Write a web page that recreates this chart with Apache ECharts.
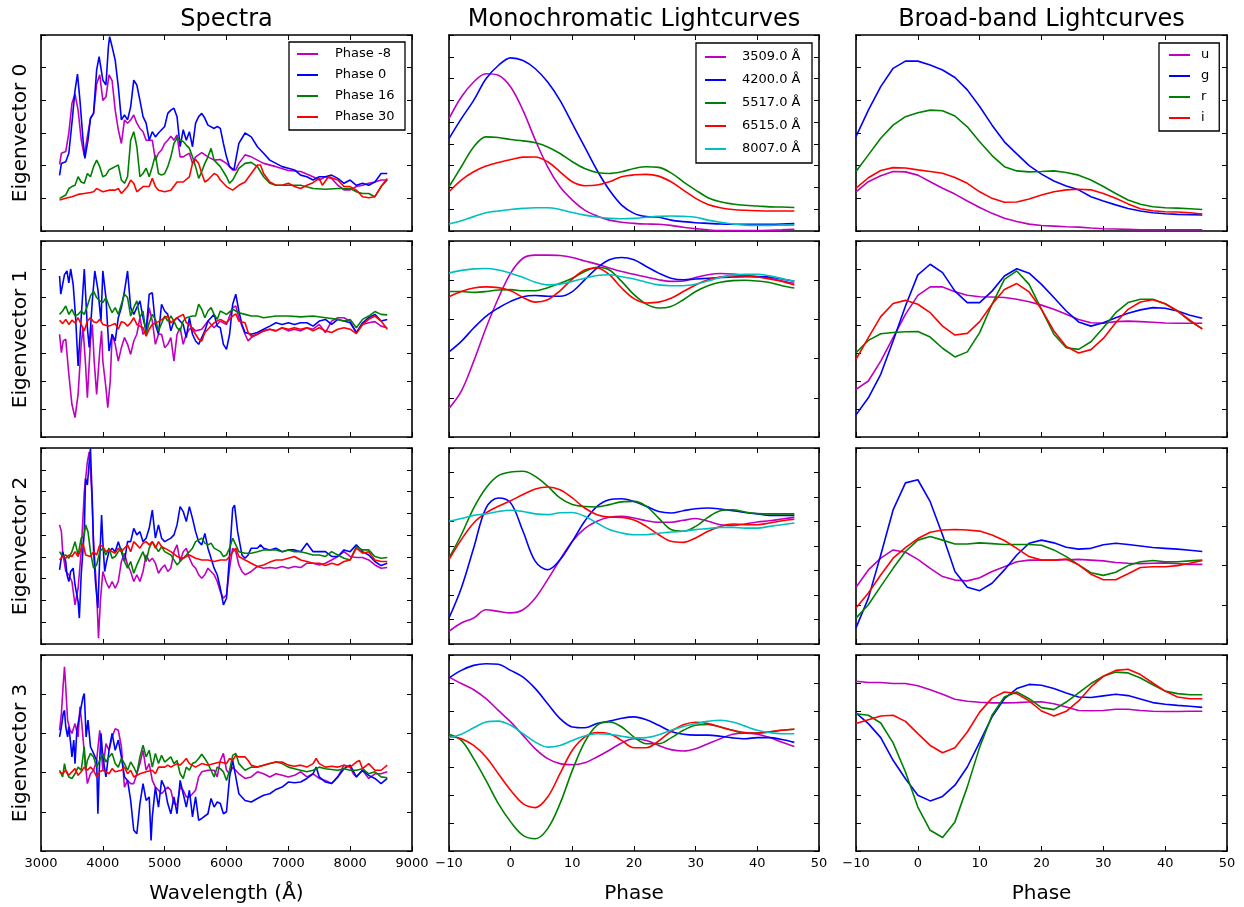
<!DOCTYPE html>
<html><head><meta charset="utf-8">
<script src="https://cdn.jsdelivr.net/npm/echarts@6/dist/echarts.min.js"></script>
<style>html,body{margin:0;padding:0;background:#fff}#c{width:1244px;height:907px}</style>
</head><body><div id="c"></div>
<script>
// ---------- tick labels / categories ----------
const COL_TITLES = ['Spectra', 'Monochromatic Lightcurves', 'Broad-band Lightcurves'];
const ROW_LABELS = ['Eigenvector 0', 'Eigenvector 1', 'Eigenvector 2', 'Eigenvector 3'];
const X_LABELS = ['Wavelength (Å)', 'Phase', 'Phase'];
const SPEC_NAMES = ['Phase -8', 'Phase 0', 'Phase 16', 'Phase 30'];
const MONO_NAMES = ['3509.0 Å', '4200.0 Å', '5517.0 Å', '6515.0 Å', '8007.0 Å'];
const BAND_NAMES = ['u', 'g', 'r', 'i'];
const PHASE = [-10,-8,-6,-4,-2,0,2,4,6,8,10,12,14,16,18,20,22,24,26,28,30,32,34,36,38,40,42,44,46];

// ---------- Spectra, eigenvector 0 ----------
const S0_M8 = [[3300,2.04],[3330,2.38],[3400,2.43],[3450,3.0],[3500,3.9],[3550,4.2],[3600,3.7],[3650,2.8],[3700,2.3],[3750,2.9],[3800,3.45],[3850,3.6],[3900,4.5],[3950,4.78],[4000,4.0],[4050,4.1],[4100,4.78],[4150,4.6],[4200,3.7],[4250,3.1],[4300,2.68],[4350,3.4],[4400,3.3],[4450,3.4],[4500,3.55],[4550,3.3],[4600,3.14],[4650,3.04],[4700,2.78],[4750,2.78],[4800,2.78],[4850,2.17],[4900,2.38],[4950,2.48],[5000,2.68],[5050,2.78],[5100,2.9],[5150,2.78],[5200,2.94],[5250,2.27],[5300,2.27],[5350,2.33],[5400,2.38],[5450,2.07],[5500,2.27],[5600,2.4],[5700,2.27],[5800,2.17],[5900,2.19],[6000,2.07],[6050,1.97],[6100,1.87],[6150,1.87],[6200,2.07],[6300,2.33],[6400,2.27],[6500,2.17],[6600,2.07],[6800,1.97],[7000,1.85],[7200,1.82],[7400,1.66],[7500,1.56],[7600,1.66],[7700,1.61],[7800,1.4],[7900,1.26],[8000,1.26],[8100,1.36],[8200,1.4],[8300,1.46],[8400,1.5],[8500,1.56],[8600,1.56]];
const S0_P0 = [[3300,1.7],[3330,2.07],[3400,2.12],[3450,2.38],[3500,3.3],[3550,4.3],[3590,4.8],[3630,4.0],[3680,2.78],[3710,2.22],[3760,2.78],[3800,3.45],[3850,3.6],[3900,4.93],[3940,5.34],[4000,4.62],[4050,4.47],[4090,5.64],[4110,5.95],[4150,5.64],[4200,5.23],[4250,4.42],[4300,3.4],[4350,3.55],[4400,3.4],[4450,3.8],[4500,4.62],[4550,4.47],[4600,4.0],[4650,3.5],[4700,3.3],[4750,2.78],[4800,3.04],[4850,2.88],[4900,3.0],[4950,3.1],[5000,3.2],[5050,3.6],[5100,3.7],[5150,3.76],[5200,3.5],[5250,2.58],[5300,3.1],[5350,2.78],[5400,3.04],[5450,2.58],[5500,3.3],[5550,3.5],[5600,3.6],[5650,3.45],[5700,3.24],[5800,3.14],[5850,3.2],[5900,3.14],[5950,2.68],[6000,2.27],[6050,1.97],[6120,1.87],[6200,2.68],[6300,3.0],[6400,2.88],[6500,2.58],[6600,2.38],[6700,2.17],[6800,2.07],[6900,1.97],[7000,1.92],[7100,1.87],[7200,1.71],[7300,1.66],[7400,1.56],[7500,1.66],[7600,1.66],[7700,1.71],[7800,1.61],[7900,1.46],[8000,1.56],[8100,1.4],[8200,1.46],[8300,1.4],[8400,1.5],[8500,1.76],[8600,1.76]];
const S0_P16 = [[3300,1.0],[3350,1.05],[3400,1.1],[3450,1.3],[3500,1.36],[3550,1.4],[3600,1.66],[3650,1.5],[3700,1.46],[3750,1.76],[3800,1.66],[3850,1.97],[3900,2.17],[3950,1.97],[4000,1.66],[4050,1.71],[4100,1.87],[4150,1.92],[4200,1.97],[4250,2.02],[4300,1.56],[4350,1.46],[4400,1.66],[4450,2.78],[4500,3.04],[4550,2.58],[4600,1.66],[4650,1.76],[4700,1.92],[4750,1.66],[4800,1.97],[4850,2.33],[4900,1.76],[4950,1.71],[5000,1.76],[5050,1.97],[5100,2.27],[5150,2.68],[5200,2.84],[5250,2.78],[5300,2.74],[5350,2.63],[5400,2.53],[5450,2.27],[5500,1.97],[5550,1.61],[5600,1.82],[5650,2.07],[5700,2.27],[5750,2.53],[5800,2.17],[5850,2.07],[5900,1.97],[6000,1.66],[6050,1.46],[6100,1.56],[6200,1.92],[6300,2.07],[6400,2.1],[6500,1.97],[6600,1.66],[6700,1.46],[6800,1.4],[7000,1.4],[7200,1.4],[7400,1.3],[7600,1.28],[7800,1.3],[8000,1.3],[8100,1.2],[8200,1.15],[8300,1.15],[8400,1.05],[8500,1.36],[8600,1.56]];
const S0_P30 = [[3300,0.95],[3400,1.0],[3500,1.05],[3600,1.12],[3700,1.15],[3800,1.18],[3850,1.2],[3900,1.3],[3950,1.25],[4000,1.2],[4100,1.25],[4200,1.25],[4250,1.3],[4300,1.15],[4400,1.36],[4450,1.56],[4500,1.46],[4550,1.2],[4650,1.36],[4750,1.36],[4800,1.61],[4850,1.36],[4900,1.25],[5000,1.2],[5100,1.25],[5200,1.5],[5300,1.5],[5400,1.66],[5450,2.07],[5500,2.19],[5550,2.07],[5600,1.76],[5650,1.5],[5700,1.56],[5800,1.76],[5850,1.71],[5900,1.56],[6000,1.36],[6100,1.25],[6200,1.4],[6300,1.5],[6400,1.76],[6500,2.02],[6550,2.02],[6600,1.76],[6700,1.5],[6800,1.4],[6900,1.4],[7000,1.46],[7100,1.36],[7200,1.3],[7300,1.4],[7400,1.48],[7500,1.61],[7550,1.4],[7650,1.66],[7800,1.56],[7900,1.36],[8000,1.36],[8100,1.25],[8200,1.05],[8300,1.02],[8400,1.05],[8500,1.36],[8600,1.61]];

// ---------- Spectra, eigenvector 1 ----------
const S1_M8 = [[3300,3.67],[3330,3.01],[3360,3.43],[3400,3.49],[3450,2.24],[3500,1.17],[3550,0.69],[3600,1.52],[3650,3.31],[3680,3.9],[3720,2.6],[3750,1.4],[3800,3.43],[3830,4.02],[3860,2.71],[3900,1.52],[3950,3.07],[3980,3.79],[4000,2.71],[4050,1.76],[4080,1.05],[4120,2.0],[4150,3.67],[4200,3.31],[4250,2.71],[4300,3.19],[4350,3.55],[4400,3.31],[4450,2.95],[4500,3.43],[4550,3.67],[4600,4.26],[4650,3.67],[4700,3.79],[4750,4.62],[4800,4.14],[4850,3.31],[4900,3.67],[4950,3.67],[5000,3.19],[5050,3.31],[5100,3.55],[5150,2.71],[5200,3.67],[5250,3.9],[5300,3.31],[5350,3.67],[5400,3.85],[5450,3.9],[5500,3.79],[5600,3.85],[5700,4.14],[5800,3.9],[5900,4.14],[6000,4.02],[6100,4.62],[6150,4.68],[6200,4.26],[6300,3.67],[6350,3.43],[6400,3.55],[6500,3.67],[6600,3.79],[6700,3.85],[6800,3.79],[6900,3.9],[7000,3.79],[7100,3.85],[7200,3.79],[7300,3.9],[7400,3.85],[7500,4.02],[7600,3.73],[7700,4.14],[7800,4.26],[7900,4.26],[8000,4.14],[8100,3.73],[8200,4.02],[8300,4.08],[8400,4.12],[8500,3.96],[8600,3.9]];
const S1_P0 = [[3300,5.75],[3320,5.1],[3350,5.45],[3380,5.8],[3420,5.93],[3450,5.5],[3480,6.0],[3520,5.45],[3560,4.26],[3600,2.54],[3650,4.26],[3700,6.0],[3750,3.9],[3780,3.2],[3830,4.86],[3870,5.93],[3920,5.27],[3970,4.14],[4000,5.93],[4050,4.98],[4100,3.07],[4150,3.67],[4200,3.43],[4250,4.26],[4300,4.62],[4350,5.21],[4400,5.93],[4450,4.62],[4500,4.38],[4550,4.62],[4600,4.86],[4650,4.26],[4700,3.79],[4750,5.1],[4800,5.15],[4850,4.02],[4900,3.67],[4950,4.74],[5000,4.5],[5050,4.38],[5100,3.79],[5150,4.14],[5200,4.26],[5300,4.02],[5350,3.55],[5400,4.26],[5450,3.67],[5500,3.43],[5550,3.31],[5650,3.79],[5700,4.14],[5800,4.38],[5850,3.96],[5900,3.9],[5950,3.31],[6000,3.13],[6050,3.67],[6100,4.74],[6150,5.1],[6200,4.5],[6250,4.02],[6300,3.73],[6400,3.67],[6500,3.73],[6600,3.85],[6700,3.96],[6800,4.08],[6900,4.02],[7000,4.08],[7100,4.02],[7200,4.08],[7300,4.08],[7400,3.96],[7500,4.14],[7600,4.2],[7700,4.02],[7800,4.2],[7900,4.14],[8000,4.08],[8100,3.73],[8200,4.08],[8300,4.26],[8400,4.38],[8500,4.14],[8600,4.2]];
const S1_P16 = [[3300,4.38],[3350,4.5],[3400,4.68],[3450,4.38],[3500,4.56],[3550,4.32],[3600,4.38],[3650,4.5],[3700,4.38],[3750,4.68],[3800,5.04],[3850,5.21],[3900,4.98],[3950,4.86],[4000,4.8],[4050,4.98],[4100,4.68],[4150,4.44],[4200,4.62],[4250,4.38],[4300,4.74],[4350,5.1],[4400,4.98],[4450,4.32],[4500,4.62],[4550,4.86],[4600,4.26],[4650,4.5],[4700,3.67],[4750,4.08],[4800,4.38],[4850,4.2],[4900,3.79],[5000,4.32],[5050,4.14],[5100,4.32],[5150,4.14],[5200,3.9],[5250,3.79],[5300,4.14],[5350,4.26],[5450,4.32],[5500,4.32],[5550,4.74],[5600,4.56],[5650,4.26],[5700,4.5],[5750,4.62],[5800,4.38],[5850,4.2],[5900,4.5],[6000,4.38],[6100,4.56],[6200,4.44],[6300,4.38],[6400,4.32],[6500,4.32],[6600,4.26],[6800,4.32],[7000,4.32],[7200,4.29],[7400,4.32],[7600,4.26],[7800,4.2],[7900,4.14],[8000,4.2],[8100,3.9],[8200,4.2],[8300,4.32],[8400,4.48],[8500,4.38],[8600,4.36]];
const S1_P30 = [[3300,4.17],[3350,4.05],[3400,4.2],[3450,4.02],[3500,4.17],[3550,4.08],[3600,4.26],[3650,4.02],[3700,3.79],[3750,4.14],[3800,4.26],[3850,4.12],[3900,4.08],[3950,4.2],[4000,4.02],[4100,3.96],[4200,4.05],[4250,3.85],[4300,4.12],[4350,4.08],[4400,3.96],[4450,4.08],[4500,4.26],[4550,4.02],[4600,3.96],[4650,3.9],[4700,3.6],[4750,3.85],[4800,4.02],[4900,4.12],[5000,4.26],[5050,4.32],[5100,4.08],[5200,4.26],[5300,4.38],[5350,4.08],[5400,4.02],[5500,3.67],[5550,3.49],[5600,3.43],[5650,3.73],[5700,3.85],[5800,4.08],[5900,4.2],[6000,4.08],[6100,4.32],[6150,4.4],[6200,4.14],[6300,4.08],[6350,3.73],[6400,3.6],[6500,3.67],[6600,3.79],[6700,3.85],[6800,3.79],[6900,3.9],[7000,3.85],[7100,3.9],[7200,3.85],[7300,3.9],[7400,3.79],[7500,3.9],[7600,3.79],[7700,3.73],[7800,3.85],[7900,3.9],[8000,3.85],[8100,3.69],[8200,4.02],[8300,4.2],[8400,4.32],[8500,4.14],[8600,3.85]];

// ---------- Spectra, eigenvector 2 ----------
const S2_M8 = [[3300,5.47],[3330,5.16],[3350,4.24],[3400,3.33],[3450,3.18],[3500,2.87],[3550,1.8],[3600,2.56],[3650,4.24],[3700,6.99],[3750,8.37],[3780,8.82],[3820,6.99],[3850,4.7],[3900,2.41],[3930,0.27],[3960,1.95],[4000,3.33],[4050,2.87],[4100,2.56],[4150,2.87],[4200,2.56],[4250,2.87],[4300,3.79],[4350,4.17],[4400,3.63],[4450,3.33],[4500,2.87],[4550,3.18],[4600,2.87],[4650,3.33],[4700,4.09],[4750,3.79],[4800,3.94],[4850,3.71],[4900,3.25],[4950,3.48],[5000,3.63],[5050,3.33],[5100,3.48],[5150,4.24],[5200,4.55],[5250,3.79],[5300,4.24],[5350,4.4],[5400,3.94],[5450,3.63],[5500,3.48],[5550,3.18],[5600,3.02],[5650,3.18],[5700,3.48],[5750,3.33],[5800,3.18],[5850,2.87],[5900,2.41],[5950,2.1],[6000,2.26],[6050,3.48],[6100,4.4],[6150,4.24],[6200,3.63],[6250,3.33],[6300,3.18],[6350,3.25],[6400,3.33],[6500,3.56],[6600,3.48],[6700,3.51],[6800,3.48],[6900,3.56],[7000,3.48],[7100,3.56],[7200,3.51],[7300,3.71],[7400,3.71],[7500,3.63],[7600,3.71],[7700,3.86],[7800,4.02],[7900,4.24],[8000,4.02],[8100,3.97],[8200,3.97],[8300,3.86],[8400,3.63],[8500,3.48],[8600,3.51]];
const S2_P0 = [[3300,3.4],[3320,3.79],[3350,4.24],[3400,3.79],[3420,3.18],[3450,2.87],[3480,3.33],[3520,3.48],[3550,2.72],[3600,1.95],[3620,1.19],[3650,3.18],[3700,5.16],[3720,7.6],[3750,7.3],[3780,8.37],[3800,8.98],[3830,6.53],[3850,4.4],[3880,2.87],[3920,1.65],[3950,3.94],[3980,5.92],[4000,4.7],[4030,3.33],[4060,3.79],[4100,4.24],[4150,4.4],[4200,4.24],[4250,4.7],[4300,4.24],[4350,3.79],[4400,4.7],[4450,4.7],[4500,5.31],[4550,5.01],[4600,5.16],[4650,4.7],[4700,4.86],[4750,5.31],[4800,6.15],[4850,4.86],[4900,5.47],[4950,4.86],[5000,4.7],[5050,4.78],[5100,4.86],[5150,5.01],[5200,5.47],[5250,6.31],[5300,6.08],[5350,5.62],[5400,6.31],[5450,5.77],[5500,5.16],[5550,4.7],[5600,4.55],[5650,5.08],[5700,4.4],[5750,3.94],[5800,3.48],[5850,3.18],[5900,2.56],[5950,1.8],[6000,2.1],[6050,4.09],[6100,6.23],[6130,6.38],[6180,5.16],[6250,4.09],[6300,3.94],[6350,4.09],[6400,4.4],[6500,4.4],[6550,4.55],[6600,4.4],[6700,4.32],[6800,4.4],[6900,4.24],[7000,4.32],[7100,4.32],[7200,4.24],[7300,4.63],[7400,4.24],[7500,4.24],[7600,4.24],[7700,4.02],[7800,4.02],[7900,4.32],[8000,4.24],[8100,4.55],[8200,4.24],[8300,4.09],[8400,3.79],[8500,3.6],[8600,3.71]];
const S2_P16 = [[3300,4.24],[3350,4.02],[3400,4.09],[3450,3.94],[3500,4.24],[3550,4.7],[3600,4.09],[3650,4.86],[3700,5.01],[3720,5.47],[3760,5.16],[3800,4.24],[3850,3.48],[3900,3.63],[3950,4.24],[4000,4.4],[4050,4.09],[4100,4.4],[4150,3.94],[4200,4.02],[4250,4.24],[4300,4.4],[4350,3.79],[4400,3.48],[4450,3.79],[4500,3.25],[4550,3.63],[4600,3.94],[4650,4.24],[4700,3.79],[4750,4.4],[4800,4.7],[4850,4.47],[4900,4.24],[4950,4.47],[5000,4.24],[5100,4.09],[5150,3.86],[5200,3.63],[5250,3.79],[5300,3.94],[5350,4.09],[5400,4.24],[5450,4.4],[5500,4.7],[5550,4.78],[5600,4.86],[5650,4.63],[5700,4.55],[5750,4.63],[5800,4.4],[5900,4.24],[5950,4.02],[6000,4.09],[6050,4.4],[6100,4.86],[6150,4.55],[6200,4.24],[6300,4.17],[6400,4.17],[6500,4.24],[6600,4.32],[6700,4.32],[6800,4.32],[6900,4.24],[7000,4.32],[7100,4.24],[7200,4.24],[7300,4.17],[7400,4.09],[7500,4.09],[7600,4.02],[7700,4.24],[7800,4.09],[7900,3.94],[8000,3.86],[8100,4.47],[8200,4.32],[8300,4.32],[8400,4.02],[8500,3.94],[8600,3.97]];
const S2_P30 = [[3300,3.86],[3350,4.02],[3400,3.94],[3450,4.09],[3500,4.02],[3550,4.24],[3600,4.02],[3650,4.4],[3680,4.63],[3720,4.09],[3800,4.02],[3850,4.24],[3900,4.09],[3950,4.55],[4000,4.47],[4050,4.24],[4100,4.32],[4200,4.17],[4250,4.4],[4300,4.24],[4350,4.4],[4400,4.55],[4450,4.24],[4500,4.7],[4550,4.55],[4600,4.4],[4650,4.63],[4700,4.7],[4750,4.55],[4800,4.7],[4850,4.4],[4900,4.7],[4950,4.47],[5000,4.4],[5100,4.24],[5200,4.02],[5300,3.94],[5400,4.09],[5500,3.94],[5600,3.86],[5700,3.86],[5800,3.79],[5900,3.86],[6000,3.86],[6050,4.02],[6100,4.24],[6150,4.4],[6200,4.02],[6300,3.86],[6400,3.71],[6500,3.56],[6600,3.63],[6700,3.76],[6800,3.86],[6900,3.86],[7000,3.94],[7100,4.02],[7200,3.86],[7300,3.79],[7400,3.71],[7500,3.71],[7600,3.6],[7700,3.71],[7800,3.63],[7900,3.79],[8000,3.86],[8100,4.4],[8200,4.17],[8300,4.24],[8400,3.86],[8500,3.79],[8600,3.79]];

// ---------- Spectra, eigenvector 3 ----------
const S3_M8 = [[3300,3.08],[3330,3.51],[3360,4.27],[3380,4.7],[3400,4.19],[3430,3.34],[3470,3.08],[3500,3.0],[3550,3.25],[3600,2.91],[3630,3.68],[3660,3.25],[3700,2.5],[3750,1.72],[3800,1.97],[3850,2.06],[3900,2.31],[3950,3.08],[4000,2.06],[4050,2.74],[4100,2.57],[4150,2.91],[4200,3.12],[4250,3.08],[4300,2.66],[4350,1.63],[4400,1.8],[4450,1.72],[4500,1.72],[4550,1.97],[4600,2.23],[4650,2.57],[4700,2.06],[4750,2.23],[4800,1.8],[4850,1.63],[4900,1.55],[4950,1.46],[5000,1.55],[5050,1.63],[5100,1.55],[5150,1.21],[5200,1.17],[5250,1.63],[5300,1.55],[5350,1.38],[5400,1.38],[5450,1.46],[5500,1.55],[5550,1.89],[5600,2.02],[5700,2.06],[5800,2.06],[5850,1.89],[5900,2.31],[5950,2.49],[6000,2.06],[6050,1.97],[6100,2.14],[6200,1.97],[6300,1.85],[6400,1.89],[6500,2.02],[6600,1.97],[6700,1.89],[6800,1.97],[6900,1.93],[7000,1.89],[7100,1.93],[7200,2.02],[7300,1.89],[7400,1.97],[7500,1.85],[7600,1.8],[7700,1.72],[7800,1.89],[7900,2.19],[8000,2.14],[8050,1.97],[8100,1.89],[8200,2.06],[8300,1.85],[8400,1.97],[8500,1.97],[8600,2.02]];
const S3_P0 = [[3300,2.91],[3330,3.17],[3360,3.51],[3380,3.59],[3400,3.17],[3430,2.91],[3450,3.17],[3480,2.74],[3500,2.4],[3530,2.83],[3550,2.23],[3580,3.08],[3620,3.42],[3650,3.68],[3680,3.93],[3700,4.02],[3730,2.91],[3760,3.34],[3800,2.66],[3850,2.49],[3900,2.31],[3920,0.95],[3940,1.97],[3970,3.0],[4000,2.4],[4050,1.89],[4100,2.57],[4150,3.0],[4200,2.57],[4250,2.83],[4300,2.4],[4350,1.89],[4400,1.8],[4450,1.29],[4500,0.53],[4550,0.44],[4600,1.21],[4650,1.72],[4700,1.29],[4750,1.38],[4780,0.27],[4800,0.87],[4850,1.63],[4900,1.12],[4950,1.8],[5000,1.63],[5050,1.21],[5100,0.95],[5150,1.38],[5200,0.95],[5250,1.8],[5300,1.46],[5350,1.12],[5400,1.55],[5450,0.87],[5500,1.38],[5550,0.78],[5600,0.83],[5700,0.95],[5750,1.34],[5800,1.12],[5850,1.25],[5900,1.21],[5950,0.95],[6000,1.0],[6050,1.89],[6100,2.31],[6150,1.89],[6200,1.46],[6300,1.29],[6400,1.25],[6500,1.34],[6600,1.42],[6700,1.46],[6800,1.57],[6900,1.63],[7000,1.76],[7100,1.74],[7200,1.76],[7300,1.85],[7400,1.97],[7450,2.14],[7500,1.89],[7600,1.76],[7700,1.72],[7800,1.89],[7900,2.1],[8000,2.19],[8100,1.89],[8200,2.06],[8300,1.93],[8400,1.85],[8500,1.72],[8600,1.85]];
const S3_P16 = [[3300,2.06],[3350,1.89],[3380,2.23],[3400,2.06],[3450,1.89],[3500,1.85],[3550,1.97],[3600,2.14],[3650,2.06],[3700,2.66],[3720,2.06],[3750,2.31],[3800,2.49],[3850,2.4],[3900,2.14],[3950,2.31],[4000,2.49],[4050,2.27],[4100,2.4],[4150,2.49],[4200,2.23],[4250,2.14],[4300,2.36],[4350,2.23],[4400,2.06],[4450,2.27],[4500,2.14],[4550,1.97],[4600,2.4],[4650,2.7],[4700,2.4],[4750,2.57],[4800,2.14],[4850,2.49],[4900,2.23],[4950,2.44],[5000,2.27],[5100,2.4],[5150,2.23],[5200,2.31],[5250,1.97],[5300,1.85],[5350,2.14],[5400,2.06],[5450,2.23],[5500,2.27],[5550,2.36],[5600,2.47],[5650,2.36],[5700,2.23],[5750,2.06],[5800,1.89],[5850,2.14],[5900,2.1],[5950,2.02],[6000,1.8],[6050,2.06],[6100,2.44],[6150,2.49],[6200,2.23],[6300,2.06],[6400,2.14],[6500,2.14],[6600,2.19],[6700,2.23],[6800,2.27],[6900,2.23],[7000,2.14],[7100,2.1],[7200,2.06],[7300,2.02],[7400,2.06],[7500,2.14],[7600,2.1],[7700,2.08],[7800,2.06],[7900,2.1],[8000,2.06],[8100,2.06],[8200,2.1],[8300,1.97],[8400,2.02],[8500,1.89],[8600,1.87]];
const S3_P30 = [[3300,2.02],[3350,1.97],[3400,2.06],[3450,1.93],[3500,2.02],[3550,2.1],[3600,1.93],[3650,2.02],[3700,2.14],[3750,2.06],[3800,2.14],[3850,2.06],[3900,1.89],[3950,2.02],[4000,2.06],[4100,1.97],[4150,2.1],[4200,2.02],[4300,2.06],[4350,2.14],[4400,1.97],[4450,2.06],[4500,1.89],[4600,1.97],[4700,2.02],[4800,2.06],[4850,1.97],[4900,2.14],[5000,2.14],[5050,2.19],[5100,2.14],[5200,2.23],[5250,2.19],[5300,2.27],[5350,2.36],[5400,2.23],[5500,2.14],[5600,2.23],[5700,2.19],[5800,2.23],[5900,2.27],[6000,2.23],[6050,2.36],[6100,2.31],[6150,2.44],[6200,2.4],[6300,2.4],[6350,2.31],[6400,2.19],[6500,2.14],[6600,2.19],[6700,2.23],[6800,2.27],[6900,2.27],[7000,2.19],[7100,2.16],[7200,2.19],[7300,2.14],[7400,2.23],[7450,2.36],[7500,2.23],[7600,2.14],[7700,2.16],[7800,2.14],[7900,2.19],[8000,2.14],[8100,2.27],[8150,2.31],[8200,2.1],[8300,2.23],[8400,2.06],[8500,2.06],[8600,2.19]];

// ---------- Monochromatic lightcurves (values at PHASE) ----------
const M0_3509 = [5.16,6.15,6.84,7.22,7.15,6.61,5.54,4.17,2.95,2.03,1.42,0.96,0.69,0.5,0.4,0.35,0.32,0.31,0.26,0.17,0.11,0.05,0.02,0.02,0.02,0.02,0.03,0.05,0.08];
const M0_4200 = [4.24,5.16,6.0,6.99,7.6,7.95,7.83,7.45,6.84,6.0,4.93,3.86,2.79,1.88,1.19,0.81,0.66,0.63,0.5,0.43,0.38,0.35,0.32,0.31,0.31,0.31,0.31,0.32,0.34];
const M0_5517 = [2.03,2.95,3.86,4.32,4.29,4.2,4.14,4.05,3.86,3.56,3.18,2.87,2.69,2.64,2.72,2.87,2.95,2.92,2.67,2.26,1.88,1.53,1.34,1.24,1.18,1.15,1.11,1.1,1.08];
const M0_6515 = [1.8,2.34,2.72,2.98,3.15,3.28,3.39,3.4,3.18,2.72,2.26,2.08,2.11,2.26,2.49,2.58,2.6,2.52,2.26,1.88,1.5,1.22,1.07,0.99,0.95,0.93,0.92,0.92,0.92];
const M0_8007 = [0.32,0.47,0.66,0.84,0.92,0.99,1.04,1.07,1.07,0.99,0.85,0.73,0.64,0.58,0.56,0.58,0.63,0.67,0.69,0.67,0.63,0.5,0.4,0.32,0.27,0.26,0.26,0.27,0.27];
const M1_3509 = [0.73,1.17,1.93,2.78,3.54,4.18,4.56,4.64,4.64,4.63,4.58,4.49,4.41,4.31,4.22,4.15,4.08,4.01,3.97,3.98,4.07,4.14,4.17,4.16,4.12,4.09,4.05,3.98,3.92];
const M1_4200 = [2.17,2.44,2.78,3.08,3.29,3.46,3.58,3.61,3.59,3.59,3.71,4.01,4.31,4.52,4.58,4.52,4.35,4.18,4.05,4.01,4.03,4.05,4.07,4.08,4.09,4.09,4.08,4.03,3.97];
const M1_5517 = [3.71,3.71,3.69,3.71,3.75,3.76,3.73,3.73,3.81,3.92,4.05,4.22,4.33,4.26,3.97,3.63,3.39,3.29,3.33,3.5,3.71,3.86,3.95,3.99,4.0,3.98,3.94,3.86,3.8];
const M1_6515 = [3.58,3.71,3.8,3.83,3.81,3.73,3.56,3.44,3.5,3.73,4.03,4.26,4.31,4.14,3.8,3.53,3.42,3.44,3.54,3.71,3.88,4.01,4.08,4.11,4.11,4.08,4.03,3.97,3.88];
const M1_8007 = [4.18,4.25,4.29,4.3,4.26,4.18,4.07,3.95,3.88,3.9,3.97,4.05,4.12,4.14,4.09,4.03,3.95,3.88,3.86,3.86,3.9,3.98,4.07,4.13,4.15,4.15,4.11,4.04,3.97];
const M2_3509 = [0.52,0.86,1.06,1.4,1.33,1.27,1.4,1.88,2.63,3.44,4.19,4.71,5.01,5.17,5.21,5.14,5.03,4.97,4.97,5.05,5.12,5.01,4.87,4.84,4.9,4.98,5.03,5.1,5.17];
const M2_4200 = [1.06,2.29,3.92,5.55,5.96,5.76,4.6,3.37,3.03,3.44,4.19,5.01,5.62,5.89,5.93,5.82,5.62,5.41,5.35,5.44,5.52,5.55,5.51,5.44,5.37,5.31,5.25,5.25,5.25];
const M2_5517 = [3.51,4.46,5.55,6.37,6.87,7.02,7.05,6.84,6.44,5.96,5.69,5.61,5.59,5.69,5.8,5.82,5.62,5.14,4.67,4.6,4.8,5.17,5.44,5.48,5.39,5.32,5.31,5.31,5.31];
const M2_6515 = [3.44,4.26,4.94,5.35,5.62,5.85,6.1,6.33,6.41,6.3,5.96,5.55,5.28,5.18,5.17,5.06,4.8,4.46,4.19,4.15,4.33,4.6,4.8,4.9,4.87,4.87,4.94,5.03,5.09];
const M2_8007 = [5.01,5.12,5.25,5.31,5.41,5.46,5.41,5.31,5.28,5.36,5.37,5.21,4.94,4.67,4.53,4.46,4.46,4.52,4.57,4.6,4.67,4.71,4.76,4.76,4.73,4.73,4.8,4.87,4.94];
const M3_3509 = [6.21,5.98,5.76,5.44,5.02,4.61,4.13,3.65,3.3,3.12,3.08,3.15,3.36,3.6,3.86,4.01,3.95,3.77,3.62,3.57,3.65,3.83,4.01,4.17,4.21,4.17,4.05,3.88,3.73];
const M3_4200 = [6.18,6.45,6.63,6.69,6.67,6.45,6.21,5.8,5.26,4.73,4.43,4.4,4.55,4.64,4.74,4.79,4.69,4.49,4.27,4.17,4.14,4.14,4.1,4.04,4.01,4.05,4.05,3.98,3.88];
const M3_5517 = [4.17,3.95,3.3,2.52,1.69,1.04,0.56,0.44,0.8,1.69,2.88,3.89,4.49,4.61,4.43,4.07,3.83,3.83,4.04,4.31,4.49,4.52,4.43,4.31,4.21,4.21,4.25,4.31,4.35];
const M3_6515 = [4.1,4.01,3.77,3.36,2.76,2.17,1.69,1.55,1.93,2.76,3.6,4.07,4.23,4.19,3.95,3.69,3.69,3.93,4.27,4.51,4.6,4.55,4.43,4.31,4.23,4.21,4.26,4.31,4.35];
const M3_8007 = [4.05,4.17,4.4,4.61,4.64,4.49,4.19,3.89,3.71,3.77,3.95,4.11,4.19,4.17,4.1,4.04,4.05,4.15,4.31,4.45,4.55,4.63,4.67,4.61,4.46,4.31,4.23,4.19,4.19];

// ---------- Broad-band lightcurves (values at PHASE) ----------
const B0_U = [1.2,1.51,1.69,1.82,1.81,1.71,1.51,1.31,1.13,0.92,0.72,0.54,0.39,0.29,0.21,0.17,0.15,0.13,0.12,0.09,0.07,0.06,0.05,0.04,0.04,0.04,0.04,0.04,0.04];
const B0_G = [2.89,3.7,4.42,4.98,5.2,5.2,5.08,4.93,4.7,4.32,3.81,3.24,2.73,2.36,2.0,1.74,1.53,1.38,1.26,1.05,0.92,0.8,0.69,0.61,0.56,0.53,0.51,0.5,0.49];
const B0_R = [1.82,2.33,2.84,3.24,3.5,3.62,3.7,3.68,3.52,3.19,2.73,2.31,1.97,1.84,1.81,1.82,1.84,1.79,1.71,1.56,1.36,1.15,0.95,0.82,0.74,0.71,0.7,0.68,0.66];
const B0_I = [1.31,1.63,1.85,1.94,1.93,1.87,1.82,1.77,1.64,1.46,1.2,1.0,0.88,0.89,0.98,1.1,1.2,1.26,1.28,1.26,1.15,1.0,0.83,0.68,0.62,0.59,0.58,0.56,0.52];
const B1_U = [1.7,2.0,2.71,3.55,4.38,5.06,5.36,5.36,5.19,5.06,5.01,5.0,4.98,4.92,4.83,4.71,4.56,4.38,4.2,4.08,4.06,4.12,4.14,4.12,4.1,4.07,4.06,4.06,4.06];
const B1_G = [0.79,1.4,2.24,3.43,4.68,5.79,6.17,5.87,5.21,4.8,4.8,5.21,5.75,6.01,5.85,5.45,4.98,4.5,4.11,3.96,4.08,4.26,4.42,4.54,4.62,4.6,4.5,4.35,4.24];
const B1_R = [3.01,3.45,3.69,3.73,3.76,3.77,3.57,3.17,2.86,3.04,3.73,4.74,5.63,5.93,5.45,4.56,3.67,3.19,3.13,3.4,3.9,4.44,4.8,4.92,4.92,4.76,4.5,4.14,3.87];
const B1_I = [2.77,3.55,4.3,4.77,4.88,4.74,4.44,3.96,3.64,3.7,4.12,4.74,5.27,5.48,5.18,4.56,3.79,3.23,3.0,3.12,3.52,4.08,4.56,4.82,4.9,4.76,4.5,4.17,3.85];
const B2_U = [1.45,1.89,2.19,2.4,2.34,2.16,1.93,1.72,1.63,1.61,1.69,1.85,1.97,2.1,2.14,2.14,2.14,2.15,2.16,2.14,2.12,2.08,2.06,2.05,2.06,2.07,2.05,2.03,2.03];
const B2_G = [0.41,1.17,2.27,3.42,4.11,4.19,3.63,2.78,1.85,1.45,1.36,1.55,1.89,2.27,2.57,2.65,2.58,2.47,2.42,2.44,2.53,2.57,2.54,2.5,2.46,2.44,2.42,2.39,2.36];
const B2_R = [0.66,1.0,1.47,1.93,2.36,2.65,2.74,2.65,2.55,2.55,2.58,2.56,2.54,2.54,2.54,2.52,2.4,2.23,2.02,1.82,1.75,1.83,2.0,2.1,2.13,2.1,2.1,2.12,2.14];
const B2_I = [0.92,1.3,1.76,2.19,2.46,2.69,2.85,2.91,2.92,2.91,2.88,2.78,2.64,2.44,2.23,2.14,2.14,2.17,2.02,1.78,1.64,1.64,1.79,1.95,1.97,1.97,2.0,2.06,2.13];
const B3_U = [6.06,6.02,6.02,5.98,5.98,5.9,5.76,5.6,5.42,5.35,5.31,5.29,5.29,5.3,5.32,5.33,5.26,5.14,5.02,5.01,5.02,5.06,5.06,5.02,4.99,4.98,4.98,4.99,4.99];
const B3_G = [4.93,4.55,4.05,3.24,2.58,1.99,1.79,1.95,2.35,3.0,3.89,4.79,5.44,5.8,5.95,5.92,5.8,5.64,5.5,5.48,5.54,5.6,5.55,5.43,5.3,5.24,5.2,5.17,5.13];
const B3_R = [4.9,4.85,4.57,3.86,2.82,1.57,0.74,0.48,1.04,2.29,3.71,4.85,5.5,5.68,5.44,5.12,5.05,5.32,5.65,5.98,6.24,6.39,6.36,6.18,5.94,5.71,5.62,5.58,5.58];
const B3_I = [4.55,4.69,4.82,4.85,4.63,4.19,3.77,3.51,3.69,4.25,4.96,5.46,5.68,5.62,5.36,5.0,4.82,4.99,5.36,5.86,6.24,6.45,6.49,6.3,6.0,5.71,5.5,5.44,5.44];

// ---------- build ----------
const MAG = '#bf00bf', BLU = '#0000ff', GRN = '#008000', RED = '#ff0000', CYA = '#00bfbf';
const FONT = '"DejaVu Sans", "Liberation Sans", sans-serif';
const COL_LEFT = [41, 449, 856];
const COL_W = [371, 370, 371];
const ROW_TOP = [35, 241, 448, 655];
const ROW_H = 196;
const YMAX = [[6, 9, 6], [7, 5, 7], [9, 8, 5], [5, 7, 7]];
const SPEC = [[S0_M8, S0_P0, S0_P16, S0_P30], [S1_M8, S1_P0, S1_P16, S1_P30], [S2_M8, S2_P0, S2_P16, S2_P30], [S3_M8, S3_P0, S3_P16, S3_P30]];
const MONO = [[M0_3509, M0_4200, M0_5517, M0_6515, M0_8007], [M1_3509, M1_4200, M1_5517, M1_6515, M1_8007], [M2_3509, M2_4200, M2_5517, M2_6515, M2_8007], [M3_3509, M3_4200, M3_5517, M3_6515, M3_8007]];
const BAND = [[B0_U, B0_G, B0_R, B0_I], [B1_U, B1_G, B1_R, B1_I], [B2_U, B2_G, B2_R, B2_I], [B3_U, B3_G, B3_R, B3_I]];
const SPEC_COLORS = [MAG, BLU, GRN, RED];
const MONO_COLORS = [MAG, BLU, GRN, RED, CYA];
const BAND_COLORS = [MAG, BLU, GRN, RED];

const grids = [], xAxes = [], yAxes = [], series = [];
const fmt = v => (v < 0 ? '\u2212' + Math.abs(v) : String(v));
const axLine = { show: true, onZero: false, lineStyle: { color: '#000', width: 1.6 } };
const axTick = { show: true, inside: true, length: 5, lineStyle: { color: '#000', width: 1 } };

for (let r = 0; r < 4; r++) {
  for (let c = 0; c < 3; c++) {
    const g = grids.length;
    grids.push({ left: COL_LEFT[c], top: ROW_TOP[r], width: COL_W[c], height: ROW_H, containLabel: false });
    const xr = c === 0 ? { min: 3000, max: 9000, interval: 1000 } : { min: -10, max: 50, interval: 10 };
    const xb = xAxes.length;
    xAxes.push(Object.assign({
      gridIndex: g, type: 'value', position: 'bottom', axisLine: axLine, axisTick: axTick, splitLine: { show: false },
      axisLabel: { show: r === 3, formatter: fmt, color: '#000', fontSize: 13, fontFamily: FONT, margin: 6, showMinLabel: true, showMaxLabel: true, hideOverlap: false },
      name: r === 3 ? X_LABELS[c] : '', nameLocation: 'middle', nameGap: 33,
      nameTextStyle: { fontSize: 20, fontFamily: FONT, color: '#000' }
    }, xr));
    xAxes.push(Object.assign({
      gridIndex: g, type: 'value', position: 'top', axisLine: axLine, axisTick: axTick, splitLine: { show: false },
      axisLabel: { show: false },
      name: r === 0 ? COL_TITLES[c] : '', nameLocation: 'middle', nameGap: 3,
      nameTextStyle: { fontSize: 24, fontFamily: FONT, color: '#000' }
    }, xr));
    const yl = yAxes.length;
    const yr = { min: 0, max: YMAX[r][c], interval: 1 };
    yAxes.push(Object.assign({
      gridIndex: g, type: 'value', position: 'left', axisLine: axLine, axisTick: axTick, splitLine: { show: false },
      axisLabel: { show: false },
      name: c === 0 ? ROW_LABELS[r] : '', nameLocation: 'middle', nameRotate: 90, nameGap: 10,
      nameTextStyle: { fontSize: 20, fontFamily: FONT, color: '#000' }
    }, yr));
    yAxes.push(Object.assign({
      gridIndex: g, type: 'value', position: 'right', axisLine: axLine, axisTick: axTick, splitLine: { show: false },
      axisLabel: { show: false }
    }, yr));

    let sets, names, colors, smooth;
    if (c === 0) { sets = SPEC[r]; names = SPEC_NAMES; colors = SPEC_COLORS; smooth = false; }
    else if (c === 1) { sets = MONO[r].map(a => PHASE.map((p, i) => [p, a[i]])); names = MONO_NAMES; colors = MONO_COLORS; smooth = 0.35; }
    else { sets = BAND[r].map(a => PHASE.map((p, i) => [p, a[i]])); names = BAND_NAMES; colors = BAND_COLORS; smooth = false; }
    sets.forEach((d, k) => {
      series.push({
        type: 'line', name: r === 0 ? names[k] : names[k] + ' #' + r, xAxisIndex: xb, yAxisIndex: yl,
        data: d, showSymbol: false, symbol: 'none', smooth: smooth, clip: true,
        color: colors[k], lineStyle: { color: colors[k], width: 1.6 }, emphasis: { disabled: true }
      });
    });
  }
}

function legendCfg(names, left, top, pad, textPad, textW, gap, lh, align) {
  return {
    data: names, orient: 'vertical', left: left, top: top, padding: pad, itemGap: gap,
    icon: 'rect', itemWidth: 21, itemHeight: 2, selectedMode: false,
    backgroundColor: '#fff', borderColor: '#000', borderWidth: 1.3, borderRadius: 0,
    textStyle: { fontSize: 13, fontFamily: FONT, color: '#000', lineHeight: lh, width: textW, padding: [0, 0, 0, textPad], align: align || 'left', overflow: 'none' }
  };
}

const option = {
  animation: false,
  backgroundColor: '#fff',
  grid: grids, xAxis: xAxes, yAxis: yAxes, series: series,
  legend: [
    legendCfg(SPEC_NAMES, 289, 42, [5, 8, 6, 8], 12, 62, 7, 14),
    legendCfg(MONO_NAMES, 696, 43, [6, 7, 6, 9], 11, 63, 7, 16),
    legendCfg(BAND_NAMES, 1159, 43, [5, 10, 6, 10], 6, 8, 7, 14, 'center')
  ]
};
const chart = echarts.init(document.getElementById('c'), null, { renderer: 'canvas' });
chart.setOption(option);
</script></body></html>
